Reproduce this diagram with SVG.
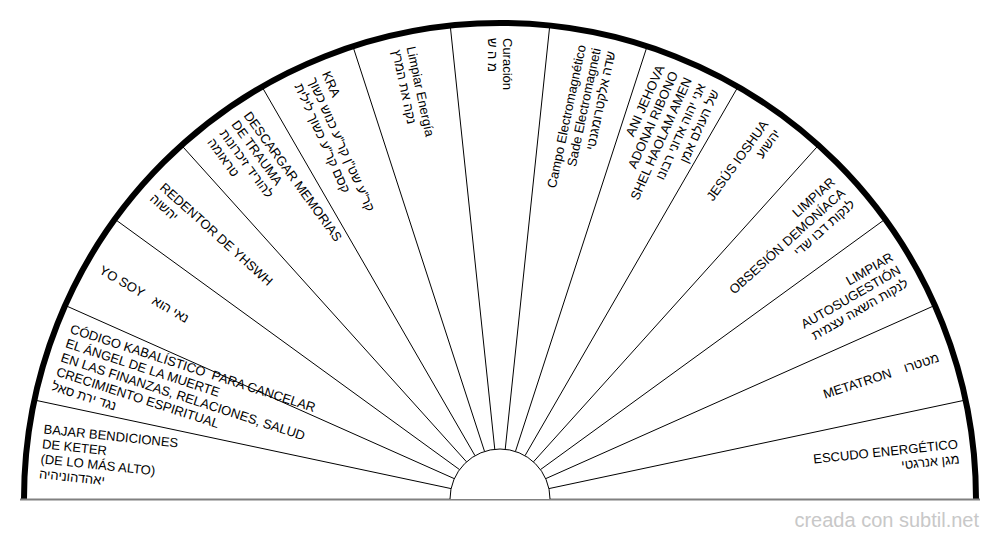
<svg xmlns="http://www.w3.org/2000/svg" width="1000" height="540" viewBox="0 0 1000 540">
<style>
text { font-family: "Liberation Sans", Arial, "Noto Sans", sans-serif; font-size: 13px; fill: #000; }
.l { text-anchor: start; }
.r { text-anchor: end; }
.spoke { stroke: #000; stroke-width: 1; fill: none; }
.rim { stroke: #000; stroke-width: 6; fill: none; }
.hub { stroke: #000; stroke-width: 1; fill: #fff; }
.base { stroke: #808080; stroke-width: 2; fill: none; }
.credit { font-size: 20px; fill: #c8c8c8; text-anchor: end; }
</style>
<rect width="1000" height="540" fill="#fff"/>
<g id="frame">
<path class="rim" d="M 24 499 A 476 476 0 0 1 976 499"/>
<path class="base" d="M 20 499.5 H 980"/>
</g>
<g id="connectors">
<line class="spoke" x1="451.09" y1="488.60" x2="34.40" y2="400.03"/>
<line class="spoke" x1="454.32" y1="478.66" x2="65.15" y2="305.39"/>
<line class="spoke" x1="459.55" y1="469.61" x2="114.91" y2="219.21"/>
<line class="spoke" x1="466.54" y1="461.84" x2="181.49" y2="145.26"/>
<line class="spoke" x1="475.00" y1="455.70" x2="262.00" y2="86.77"/>
<line class="spoke" x1="484.55" y1="451.45" x2="352.91" y2="46.30"/>
<line class="spoke" x1="494.77" y1="449.27" x2="450.24" y2="25.61"/>
<line class="spoke" x1="505.23" y1="449.27" x2="549.76" y2="25.61"/>
<line class="spoke" x1="515.45" y1="451.45" x2="647.09" y2="46.30"/>
<line class="spoke" x1="525.00" y1="455.70" x2="738.00" y2="86.77"/>
<line class="spoke" x1="533.46" y1="461.84" x2="818.51" y2="145.26"/>
<line class="spoke" x1="540.45" y1="469.61" x2="885.09" y2="219.21"/>
<line class="spoke" x1="545.68" y1="478.66" x2="934.85" y2="305.39"/>
<line class="spoke" x1="548.91" y1="488.60" x2="965.60" y2="400.03"/>
</g>
<g id="hub">
<path class="hub" d="M 450 499 A 50 50 0 0 1 550 499"/>
</g>
<g id="s00" transform="translate(500 499) rotate(6)">
<text class="l" x="-461" y="-17.5">BAJAR BENDICIONES</text>
<text class="l" x="-461" y="-2.5">DE KETER</text>
<text class="l" x="-461" y="12.5">(DE LO MÁS ALTO)</text>
<text class="l" x="-461" y="27.5">יאהדהוניהיה</text>
</g>
<g id="s01" transform="translate(500 499) rotate(18)">
<text class="l" x="-461" y="-25" xml:space="preserve">CÓDIGO KABALÍSTICO  PARA CANCELAR</text>
<text class="l" x="-461" y="-10">EL ÁNGEL DE LA MUERTE</text>
<text class="l" x="-461" y="5">EN LAS FINANZAS, RELACIONES, SALUD</text>
<text class="l" x="-461" y="20">CRECIMIENTO ESPIRITUAL</text>
<text class="l" x="-461" y="35">נגד ירת סאל</text>
</g>
<g id="s02" transform="translate(500 499) rotate(30)">
<text class="l" x="-461" y="5">YO SOY</text>
<text class="l" x="-400" y="5">נאי הוא</text>
</g>
<g id="s03" transform="translate(500 499) rotate(42)">
<text class="l" x="-461" y="-2.5">REDENTOR DE YHSWH</text>
<text class="l" x="-461" y="12.5">יהשוה</text>
</g>
<g id="s04" transform="translate(500 499) rotate(54)">
<text class="l" x="-461" y="-17.5">DESCARGAR MEMORIAS</text>
<text class="l" x="-461" y="-2.5">DE TRAUMA</text>
<text class="l" x="-461" y="12.5">להוריד זיכרונות</text>
<text class="l" x="-461" y="27.5">טראומה</text>
</g>
<g id="s05" transform="translate(500 499) rotate(66)">
<text class="l" x="-461" y="-10">KRA</text>
<text class="l" x="-461" y="5">קר"ע שט"ן קר"ע כנוש כשוך</text>
<text class="l" x="-461" y="20">קסם קר"ע כשוך לילית</text>
</g>
<g id="s06" transform="translate(500 499) rotate(78)">
<text class="l" x="-461" y="-2.5">Limpiar Energía</text>
<text class="l" x="-461" y="12.5">נקה את המרץ</text>
</g>
<g id="s07" transform="translate(500 499) rotate(90)">
<text class="l" x="-461" y="-2.5">Curación</text>
<text class="l" x="-461" y="12.5">מ ה ש</text>
</g>
<g id="s08" transform="translate(500 499) rotate(-78)">
<text class="r" x="461" y="-10">Campo Electromagnético</text>
<text class="r" x="461" y="5">Sade Electromagneti</text>
<text class="r" x="461" y="20">שדה אלקטרומגנטי</text>
</g>
<g id="s09" transform="translate(500 499) rotate(-66)">
<text class="r" x="461" y="-25">ANI JEHOVA</text>
<text class="r" x="461" y="-10">ADONAI RIBONO</text>
<text class="r" x="461" y="5">SHEL HAOLAM AMEN</text>
<text class="r" x="461" y="20">אני יהוה אדוני רבונו</text>
<text class="r" x="461" y="35">של העולם אמן</text>
</g>
<g id="s10" transform="translate(500 499) rotate(-54)">
<text class="r" x="461" y="-2.5">JESÚS IOSHUA</text>
<text class="r" x="461" y="12.5">יהשוע</text>
</g>
<g id="s11" transform="translate(500 499) rotate(-42)">
<text class="r" x="461" y="-10">LIMPIAR</text>
<text class="r" x="461" y="5">OBSESIÓN DEMONÍACA</text>
<text class="r" x="461" y="20">לנקות דבו שדי</text>
</g>
<g id="s12" transform="translate(500 499) rotate(-30)">
<text class="r" x="461" y="-10">LIMPIAR</text>
<text class="r" x="461" y="5">AUTOSUGESTIÓN</text>
<text class="r" x="461" y="20">לנקות השאה עצמית</text>
</g>
<g id="s13" transform="translate(500 499) rotate(-18)">
<text class="r" x="411" y="5">METATRON</text>
<text class="r" x="461" y="5">מטטרו</text>
</g>
<g id="s14" transform="translate(500 499) rotate(-6)">
<text class="r" x="461" y="-2.5">ESCUDO ENERGÉTICO</text>
<text class="r" x="461" y="12.5">מגן אנרגטי</text>
</g>
<text class="credit" x="979" y="527">creada con subtil.net</text>
</svg>
